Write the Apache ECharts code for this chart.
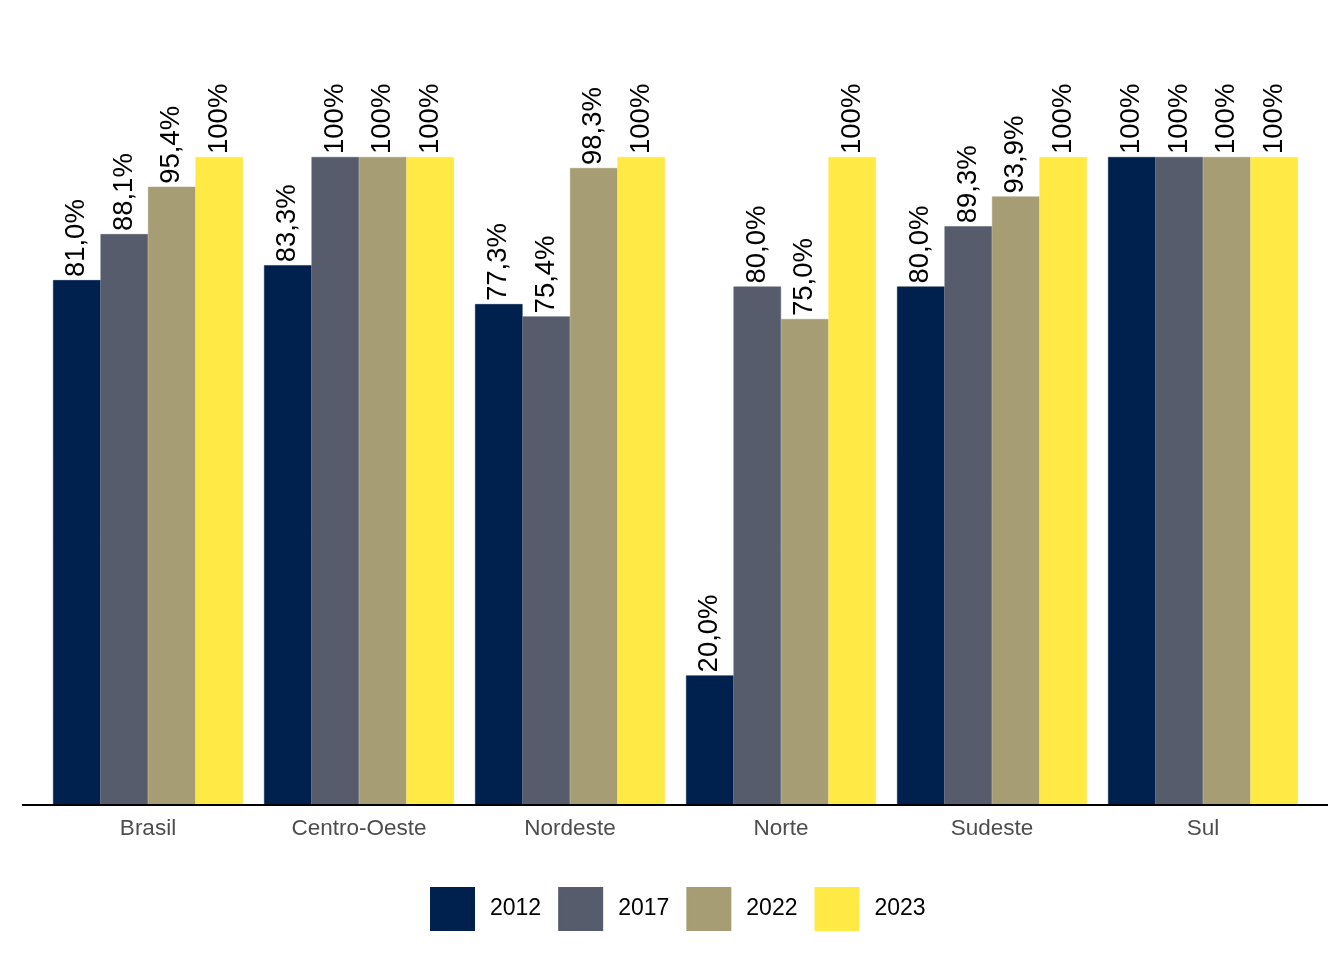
<!DOCTYPE html>
<html>
<head>
<meta charset="utf-8">
<script src="https://cdn.jsdelivr.net/npm/echarts@6/dist/echarts.min.js"></script>
<style>html,body{margin:0;padding:0;background:#fff}#c{width:1344px;height:960px}</style>
</head>
<body>
<div id="c"></div>
<script>
const categories = ['Brasil', 'Centro-Oeste', 'Nordeste', 'Norte', 'Sudeste', 'Sul'];
const years = ['2012', '2017', '2022', '2023'];
const v2012 = [81.0, 83.3, 77.3, 20.0, 80.0, 100];
const v2017 = [88.1, 100, 75.4, 80.0, 89.3, 100];
const v2022 = [95.4, 100, 98.3, 75.0, 93.9, 100];
const v2023 = [100, 100, 100, 100, 100, 100];
const seriesValues = [v2012, v2017, v2022, v2023];
const colors = ['#00204D', '#565C6C', '#A69D75', '#FFE945'];

const FONT = '"Liberation Sans", Arial, sans-serif';
function fmt(v) {
  return v === 100 ? '100%' : v.toFixed(1).replace('.', ',') + '%';
}

const chart = echarts.init(document.getElementById('c'));
chart.setOption({
  animation: false,
  backgroundColor: '#ffffff',
  textStyle: { fontFamily: FONT },
  grid: { left: 42.5, right: 35.5, top: 157, bottom: 155, containLabel: false },
  legend: {
    data: years,
    left: 430,
    top: 887,
    padding: 0,
    itemWidth: 43,
    itemHeight: 42,
    itemGap: 17,
    icon: 'rect',
    textStyle: { fontSize: 23, color: '#000', fontFamily: FONT, padding: [0, 0, 0, 11] }
  },
  xAxis: {
    type: 'category',
    data: categories,
    axisLine: { show: false },
    axisTick: { show: false },
    axisLabel: { fontSize: 22.5, color: '#4D4D4D', margin: 12, fontFamily: FONT }
  },
  yAxis: {
    type: 'value',
    min: 0,
    max: 100,
    show: false
  },
  graphic: [{
    type: 'line',
    shape: { x1: 22, y1: 805, x2: 1328, y2: 805 },
    style: { stroke: '#000', lineWidth: 2 },
    z: 100
  }],
  series: years.map((y, i) => ({
    name: y,
    type: 'bar',
    data: seriesValues[i],
    barGap: '0%',
    barCategoryGap: '10%',
    itemStyle: { color: colors[i], borderColor: colors[i], borderWidth: 0.5 },
    label: {
      show: true,
      position: 'top',
      distance: 3,
      rotate: 90,
      align: 'left',
      verticalAlign: 'middle',
      fontSize: 27.5,
      color: '#000',
      fontFamily: FONT,
      formatter: p => fmt(p.value)
    }
  }))
});
</script>
</body>
</html>
